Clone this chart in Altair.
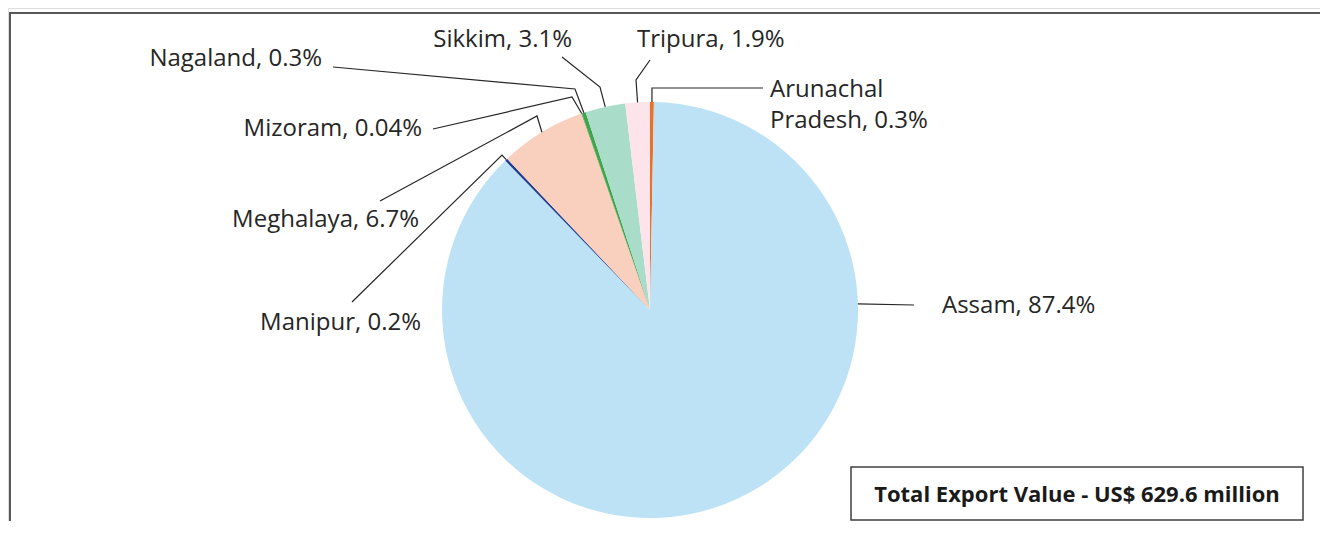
import math
import altair as alt
import pandas as pd

# ---- data ----
states = ["Arunachal Pradesh", "Assam", "Manipur", "Meghalaya", "Mizoram",
          "Nagaland", "Sikkim", "Tripura"]
shares = [0.3, 87.4, 0.2, 6.7, 0.04, 0.3, 3.1, 1.9]
label_lines = [["Arunachal", "Pradesh, 0.3%"], ["Assam, 87.4%"], ["Manipur, 0.2%"],
               ["Meghalaya, 6.7%"], ["Mizoram, 0.04%"], ["Nagaland, 0.3%"],
               ["Sikkim, 3.1%"], ["Tripura, 1.9%"]]
colors = ["#E8712B", "#BDE2F6", "#233C8E", "#F9CFBD", "#2E7D32", "#3BA64A",
          "#A9DCC9", "#FDE4EA"]
total_text = "Total Export Value - US$ 629.6 million"

# ---- label layout (annotation placement, page pixel units) ----
CX, CY, R = 650, 310, 208
anchor_frac = [0.5, 0.277, 0.5, 0.5, 0.5, 0.5, 0.5, 0.5]
elbows = [(652, 88), None, (502, 155), (537, 116), (572, 97), (575, 89), (600, 87), (636, 80)]
line_ends = [(763, 88), (914, 305), (352, 302), (380, 201), (433, 129), (333, 67), (562, 57), (650, 60)]
text_pos = [(770, 97), (942, 313), (421, 330), (419, 227), (422, 136), (322, 66), (572, 47), (637, 47)]
text_align = ["left", "left", "right", "right", "right", "right", "right", "left"]
line_height = 31

W, H = 1312, 513
xs = alt.Scale(domain=[8, 8 + W], range=[0, W], nice=False, zero=False)
ys = alt.Scale(domain=[8, 8 + H], range=[0, H], nice=False, zero=False)

pie_df = pd.DataFrame({"state": states, "share": shares, "idx": list(range(len(states)))})

total = sum(shares)
cum = 0.0
line_rows = []
text_rows = []
for i, s in enumerate(shares):
    ang = (cum + s * anchor_frac[i]) / total * 2 * math.pi
    cum += s
    sx = CX + R * math.sin(ang)
    sy = CY - R * math.cos(ang)
    pts = [(sx, sy)]
    if elbows[i] is not None:
        pts.append(elbows[i])
    pts.append(line_ends[i])
    for k, (px, py) in enumerate(pts):
        line_rows.append({"state": states[i], "seq": k, "x": px, "y": py})
    tx, ty = text_pos[i]
    for j, t in enumerate(label_lines[i]):
        text_rows.append({"state": states[i], "x": tx, "y": ty + j * line_height,
                          "text": t, "align": text_align[i]})

lines_df = pd.DataFrame(line_rows)
text_df = pd.DataFrame(text_rows)

FONT = "Open Sans"
FS = 24

pie = alt.Chart(pie_df).mark_arc(radius=R).encode(
    theta=alt.Theta("share:Q", stack=True),
    order=alt.Order("idx:Q"),
    color=alt.Color("state:N", scale=alt.Scale(domain=states, range=colors), legend=None),
    x=alt.value(CX - 8),
    y=alt.value(CY - 8),
)

leaders = alt.Chart(lines_df).mark_line(color="#262626", strokeWidth=1.2).encode(
    x=alt.X("x:Q", scale=xs, axis=None),
    y=alt.Y("y:Q", scale=ys, axis=None),
    detail="state:N",
    order="seq:Q",
)

left_txt = alt.Chart(text_df[text_df["align"] == "left"]).mark_text(
    align="left", baseline="alphabetic", font=FONT, fontSize=FS, color="#262626"
).encode(x=alt.X("x:Q", scale=xs, axis=None), y=alt.Y("y:Q", scale=ys, axis=None), text="text:N")

right_txt = alt.Chart(text_df[text_df["align"] == "right"]).mark_text(
    align="right", baseline="alphabetic", font=FONT, fontSize=FS, color="#262626"
).encode(x=alt.X("x:Q", scale=xs, axis=None), y=alt.Y("y:Q", scale=ys, axis=None), text="text:N")

box_df = pd.DataFrame({"x": [851], "x2": [1303], "y": [467], "y2": [520]})
box = alt.Chart(box_df).mark_rect(fill="white", stroke="#404040", strokeWidth=1.5).encode(
    x=alt.X("x:Q", scale=xs, axis=None), x2="x2:Q",
    y=alt.Y("y:Q", scale=ys, axis=None), y2="y2:Q",
)
box_txt_df = pd.DataFrame({"x": [1077], "y": [502], "text": [total_text]})
box_txt = alt.Chart(box_txt_df).mark_text(
    align="center", baseline="alphabetic", font=FONT, fontSize=22, fontWeight="bold", color="#1a1a1a"
).encode(x=alt.X("x:Q", scale=xs, axis=None), y=alt.Y("y:Q", scale=ys, axis=None), text="text:N")

frame_df = pd.DataFrame({"x": [10], "x2": [1340], "y": [13], "y2": [560]})
frame = alt.Chart(frame_df).mark_rect(fill="white", stroke="#595959", strokeWidth=2).encode(
    x=alt.X("x:Q", scale=xs, axis=None), x2="x2:Q",
    y=alt.Y("y:Q", scale=ys, axis=None), y2="y2:Q",
)

chart = alt.layer(frame, pie, leaders, left_txt, right_txt, box, box_txt).properties(
    width=W, height=H, autosize="none", padding=0
).configure_view(stroke=None).configure(background="white")

chart.save("out.html", embed_options={"renderer": "svg", "actions": False})
